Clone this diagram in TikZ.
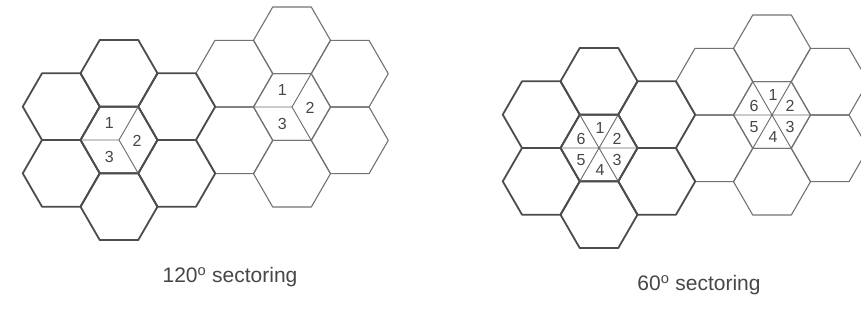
\documentclass[tikz,border=0pt]{standalone}
\usepackage{fontspec}
\setmainfont{Liberation Sans}
\tikzset{
  thickhex/.style={draw=black!70, line width=1.8pt, line join=round},
  thinhex/.style={draw=black!55, line width=1.1pt, line join=round},
  sectorline/.style={draw=black!58, line width=0.9pt},
  seclabel/.style={text=black!72, font=\fontsize{16}{16}\selectfont, inner sep=0pt},
  capt/.style={text=black!72, font=\fontsize{21}{21}\selectfont, inner sep=0pt}
}
\newcommand\hexcell[3]{\draw[#1, shift={(#2,#3)}] (0:38.5) -- (60:38.5) -- (120:38.5) -- (180:38.5) -- (240:38.5) -- (300:38.5) -- cycle;}
\newcommand\hexcluster[3]{%
  \foreach \dx/\dy in {0/0, 0/66.7, 0/-66.7, 57.75/33.35, 57.75/-33.35, -57.75/33.35, -57.75/-33.35}
    {\hexcell{#1}{#2+\dx}{#3+\dy}}}
\newcommand\sectorsthree[3]{%
  \draw[sectorline, shift={(#2,#3)}] (180:38.5) -- (0,0) -- (60:38.5) (0,0) -- (-60:38.5);
  \node[seclabel] (#1one) at (#2-9.6,#3-16.7) {1};
  \node[seclabel] (#1two) at (#2+18,#3+1) {2};
  \node[seclabel] (#1three) at (#2-9.6,#3+16.7) {3};}
\newcommand\sectorssix[3]{%
  \draw[sectorline, shift={(#2,#3)}] (0:38.5) -- (180:38.5) (60:38.5) -- (240:38.5) (120:38.5) -- (300:38.5);
  \node[seclabel] (#1one) at (#2+1,#3-20) {1};
  \node[seclabel] (#1two) at (#2+18,#3-9.5) {2};
  \node[seclabel] (#1three) at (#2+18,#3+12) {3};
  \node[seclabel] (#1four) at (#2+1,#3+22) {4};
  \node[seclabel] (#1five) at (#2-18,#3+12) {5};
  \node[seclabel] (#1six) at (#2-18,#3-9.5) {6};}
\begin{document}
\begin{tikzpicture}[x=1pt,y=-1pt]
\useasboundingbox (0,0) rectangle (861,331);
\fill[white] (0,0) rectangle (861,331);
\clip (0,0) rectangle (861,331);
% 120 degree sectoring
\hexcluster{thinhex}{292}{107}
\hexcluster{thickhex}{119}{140}
\sectorsthree{la}{119}{140}
\sectorsthree{lb}{292}{107}
\node[capt] (capA) at (230,277) {120\textsuperscript{o} sectoring};
% 60 degree sectoring
\hexcluster{thinhex}{772}{115}
\hexcluster{thickhex}{599}{148}
\sectorssix{ra}{599}{148}
\sectorssix{rb}{772}{115}
\node[capt] (capB) at (699,285) {60\textsuperscript{o} sectoring};
\end{tikzpicture}
\end{document}
